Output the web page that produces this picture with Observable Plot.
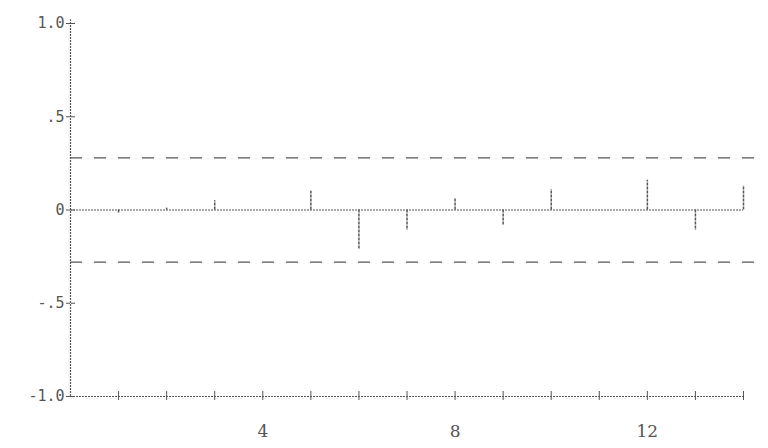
<!DOCTYPE html>
<html>
<head>
<meta charset="utf-8">
<script src="https://cdn.jsdelivr.net/npm/d3@7"></script>
<script src="https://cdn.jsdelivr.net/npm/@observablehq/plot@0.6"></script>
<style>
  html, body { margin: 0; padding: 0; background: #fff; }
  #chart { width: 768px; height: 448px; }
</style>
</head>
<body>
<div id="chart"></div>
<script>
// Lags and autocorrelation values
const lags = [1, 2, 3, 4, 5, 6, 7, 8, 9, 10, 11, 12, 13, 14];
const acf = [-0.02, 0.01, 0.05, 0.0, 0.10, -0.21, -0.11, 0.06, -0.08, 0.11, 0.0, 0.16, -0.11, 0.13];
const bound = 0.28;
// Tick values and labels
const xTicks = [1, 2, 3, 4, 5, 6, 7, 8, 9, 10, 11, 12, 13, 14];
const xLabelTicks = [4, 8, 12];
const yTicks = [1, 0.5, 0, -0.5, -1];
const yTickLabels = ["1.0", ".5", "0", "-.5", "-1.0"];

const data = lags.map((lag, i) => ({lag, r: acf[i]}));
const ink = "#555";

const chart = Plot.plot({
  width: 768,
  height: 448,
  marginLeft: 70,
  marginRight: 25,
  marginTop: 23,
  marginBottom: 52,
  style: {fontFamily: "DejaVu Sans Mono", fontSize: "15px", color: ink, background: "#fff"},
  x: {type: "linear", domain: [0, 14], label: null},
  y: {type: "linear", domain: [-1, 1], label: null},
  marks: [
    // axis lines
    Plot.ruleX([0], {y1: -1, y2: 1.02, stroke: ink, strokeWidth: 1.2, strokeDasharray: "2,1"}),
    Plot.ruleY([-1], {x1: 0, x2: 14, stroke: ink, strokeWidth: 1.2, strokeDasharray: "2,1"}),
    // y axis ticks and labels
    Plot.axisY({ticks: yTicks, tickFormat: (d) => yTickLabels[yTicks.indexOf(d)], tickSize: 4, tickPadding: 2, stroke: ink, fill: ink, fontSize: 15, label: null}),
    Plot.axisY({ticks: yTicks, anchor: "left", tickFormat: () => "", tickSize: 4, dx: 5, stroke: ink, label: null}),
    // x axis ticks (crossing) and labels
    Plot.axisX({ticks: xTicks, tickFormat: () => "", tickSize: 5, dy: -5, stroke: ink, label: null}),
    Plot.axisX({ticks: xTicks, tickFormat: () => "", tickSize: 4, stroke: ink, label: null}),
    Plot.axisX({ticks: xLabelTicks, tickSize: 0, tickPadding: 28, fill: ink, fontSize: 17, fontFamily: "DejaVu Serif", label: null}),
    // zero line
    Plot.ruleY([0], {x1: 0, x2: 14, stroke: ink, strokeWidth: 1, strokeDasharray: "2,1"}),
    // confidence bounds
    Plot.ruleY([bound, -bound], {x1: 0, x2: 14.45, stroke: ink, strokeWidth: 1.2, strokeDasharray: "12,12"}),
    // spikes
    Plot.ruleX(data, {x: "lag", y1: 0, y2: "r", stroke: ink, strokeWidth: 1.5, strokeDasharray: "3,1"})
  ]
});
document.getElementById("chart").append(chart);
</script>
</body>
</html>
